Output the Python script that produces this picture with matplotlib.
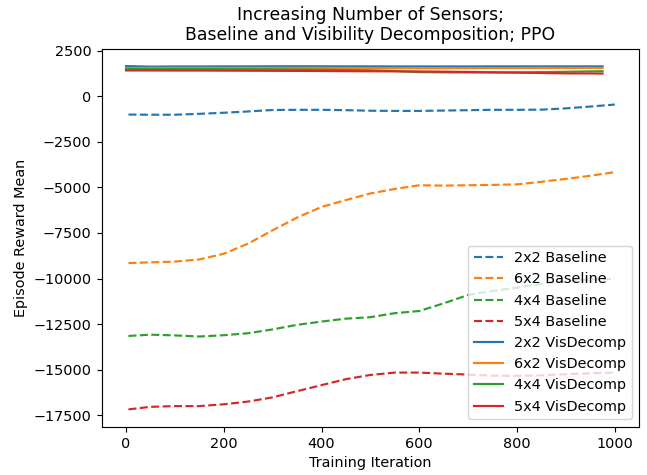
import matplotlib
matplotlib.use("Agg")
from matplotlib import pyplot as plt

# iterations
iters_base = [5, 50, 100, 150, 200, 250, 300, 350, 400, 450, 500,
              550, 600, 650, 700, 750, 800, 850, 900, 950, 1000]
iters_vis = [0, 50, 100, 150, 200, 250, 300, 350, 400, 450, 500,
             550, 600, 650, 700, 750, 800, 850, 900, 950, 975]

# baseline reward means
base_2x2 = [-1000, -1010, -1010, -960, -900, -830, -750, -740, -740, -760, -790,
            -800, -800, -780, -760, -740, -740, -730, -660, -560, -450]
base_6x2 = [-9150, -9110, -9070, -8950, -8640, -8080, -7350, -6650, -6070, -5690, -5330,
            -5080, -4880, -4900, -4880, -4860, -4830, -4690, -4530, -4360, -4160]
base_4x4 = [-13150, -13080, -13120, -13180, -13110, -13000, -12790, -12540, -12360, -12200, -12120,
            -11900, -11780, -11360, -10900, -10680, -10500, -10290, -10150, -10050, -10020]
base_5x4 = [-17180, -17040, -17000, -17000, -16900, -16750, -16520, -16180, -15850, -15520, -15290,
            -15160, -15160, -15220, -15270, -15330, -15340, -15310, -15250, -15200, -15160]

# visibility decomposition reward means
vis_2x2 = [1660, 1630, 1640, 1640, 1645, 1645, 1650, 1650, 1650, 1645, 1645,
           1640, 1640, 1640, 1640, 1645, 1645, 1645, 1645, 1645, 1645]
vis_6x2 = [1550, 1560, 1560, 1560, 1560, 1560, 1560, 1560, 1560, 1555, 1555,
           1545, 1540, 1545, 1550, 1555, 1555, 1560, 1560, 1560, 1560]
vis_4x4 = [1500, 1500, 1495, 1495, 1490, 1485, 1480, 1470, 1460, 1445, 1430,
           1390, 1330, 1315, 1310, 1310, 1315, 1330, 1350, 1370, 1380]
vis_5x4 = [1420, 1420, 1415, 1415, 1410, 1405, 1400, 1395, 1390, 1380, 1375,
           1370, 1365, 1355, 1340, 1320, 1300, 1280, 1260, 1255, 1250]

sizes = ["2x2", "6x2", "4x4", "5x4"]
colors = ["tab:blue", "tab:orange", "tab:green", "tab:red"]
baselines = [base_2x2, base_6x2, base_4x4, base_5x4]
visdecomps = [vis_2x2, vis_6x2, vis_4x4, vis_5x4]

dpi = 103.5
fig, ax = plt.subplots(figsize=(647 / dpi, 475 / dpi), dpi=dpi)

for size, color, values in zip(sizes, colors, baselines):
    ax.plot(iters_base, values, '--', color=color, label=f"{size} Baseline")
for size, color, values in zip(sizes, colors, visdecomps):
    ax.plot(iters_vis, values, '-', color=color, label=f"{size} VisDecomp")

ax.set_title("Increasing Number of Sensors;\nBaseline and Visibility Decomposition; PPO")
ax.set_xlabel("Training Iteration")
ax.set_ylabel("Episode Reward Mean")
ax.legend(loc="lower right")

fig.subplots_adjust(left=0.157, right=0.988, top=0.897, bottom=0.102)
fig.savefig("out.png", dpi=dpi)
